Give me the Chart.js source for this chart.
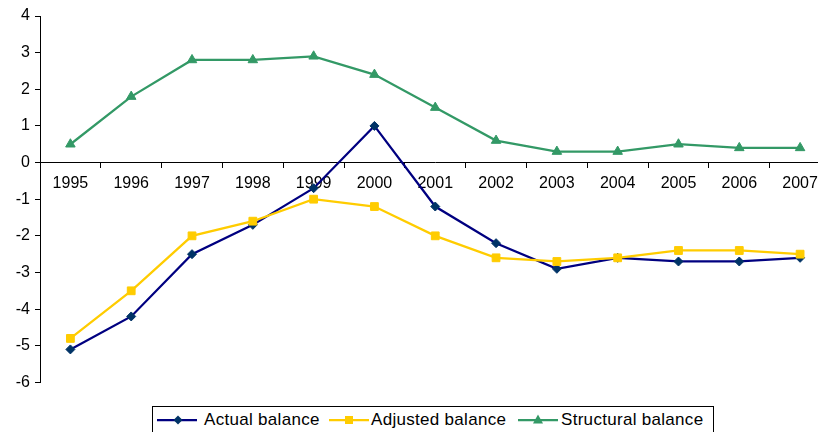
<!DOCTYPE html>
<html>
<head>
<meta charset="utf-8">
<script src="https://cdn.jsdelivr.net/npm/chart.js@4/dist/chart.umd.min.js"></script>
<style>
  html, body { margin: 0; padding: 0; background: #fff; overflow: hidden; width: 818px; height: 432px; }
  #wrap { position: absolute; left: 0; top: 0; width: 837px; height: 397px; }
  #legend { position: absolute; left: 152px; top: 406px; width: 562px; height: 30px; box-sizing: border-box;
    border: 1px solid #000; font-family: "Liberation Sans", Arial, sans-serif; font-size: 17px; letter-spacing: 0.3px;
    color: #000; white-space: nowrap; }
  #legend svg, #legend span { position: absolute; }
  #legend span { top: 3px; line-height: 20px; }
  #legend svg { top: 7px; }
</style>
</head>
<body>
<div id="wrap"><canvas id="c"></canvas></div>
<div id="legend"></div>
<script>
const years = ['1995','1996','1997','1998','1999','2000','2001','2002','2003','2004','2005','2006','2007'];
const actualBalance = [-5.1, -4.2, -2.5, -1.7, -0.7, 1.0, -1.2, -2.2, -2.9, -2.6, -2.7, -2.7, -2.6];
const adjustedBalance = [-4.8, -3.5, -2.0, -1.6, -1.0, -1.2, -2.0, -2.6, -2.7, -2.6, -2.4, -2.4, -2.5];
const structuralBalance = [0.5, 1.8, 2.8, 2.8, 2.9, 2.4, 1.5, 0.6, 0.3, 0.3, 0.5, 0.4, 0.4];
const seriesNames = ['Actual balance', 'Adjusted balance', 'Structural balance'];

const FONT = { family: '"Liberation Sans", Arial, sans-serif', size: 16 };

const datasets = [
  { label: seriesNames[0], data: actualBalance, borderColor: '#000080', backgroundColor: '#003366',
    pointBackgroundColor: '#003366', pointBorderColor: '#003366', pointStyle: 'rectRot', pointRadius: 4.5,
    borderWidth: 2.25, order: 2 },
  { label: seriesNames[1], data: adjustedBalance, borderColor: '#FFCC00', backgroundColor: '#FFCC00',
    pointBackgroundColor: '#FFCC00', pointBorderColor: '#FFCC00', pointStyle: 'rect', pointRadius: 5.5,
    borderWidth: 2.25, order: 1 },
  { label: seriesNames[2], data: structuralBalance, borderColor: '#339966', backgroundColor: '#339966',
    pointBackgroundColor: '#339966', pointBorderColor: '#339966', pointStyle: 'triangle', pointRadius: 5.5,
    borderWidth: 2.25, order: 0 }
];

new Chart(document.getElementById('c'), {
  type: 'line',
  data: { labels: years, datasets: datasets.map(d => Object.assign({ tension: 0, fill: false, pointBorderWidth: 1 }, d)) },
  options: {
    responsive: true, maintainAspectRatio: false, animation: false,
    layout: { padding: { top: 16, bottom: 9, left: 0, right: 0 } },
    plugins: { legend: { display: false }, tooltip: { enabled: false } },
    scales: {
      x: {
        type: 'category', position: { y: 0 }, offset: true,
        afterFit: s => { s.paddingLeft = 0; s.paddingRight = 0; },
        grid: { offset: true, drawOnChartArea: false, tickLength: 5, color: '#000', lineWidth: 1 },
        border: { color: '#000', width: 1 },
        ticks: { font: FONT, color: '#000', padding: 6, maxRotation: 0, autoSkip: false }
      },
      y: {
        min: -6, max: 4,
        afterFit: s => { s.width = 40; },
        grid: { drawOnChartArea: false, tickLength: 5, color: '#000', lineWidth: 1 },
        border: { color: '#000', width: 1 },
        ticks: { stepSize: 1, font: FONT, color: '#000', padding: 5 }
      }
    }
  }
});

// legend (HTML, real text); positions relative to the legend box
const legend = document.getElementById('legend');
const markers = {
  rectRot: (c) => `<polygon points="21,1.5 25.5,6 21,10.5 16.5,6" fill="${c}"/>`,
  rect: (c) => `<rect x="16" y="2" width="8" height="8" fill="${c}"/>`,
  triangle: (c) => `<polygon points="20,0.5 25,9.5 15,9.5" fill="${c}"/>`
};
const swatchX = [4, 176, 365];
const textX = [51, 218, 408];
datasets.forEach((d, i) => {
  legend.insertAdjacentHTML('beforeend',
    `<svg style="left:${swatchX[i]}px" width="40" height="12" viewBox="0 0 40 12"><line x1="0" y1="6" x2="40" y2="6" stroke="${d.borderColor}" stroke-width="2.25"/>${markers[d.pointStyle](d.pointBackgroundColor)}</svg>` +
    `<span style="left:${textX[i]}px">${d.label}</span>`);
});
</script>
</body>
</html>
